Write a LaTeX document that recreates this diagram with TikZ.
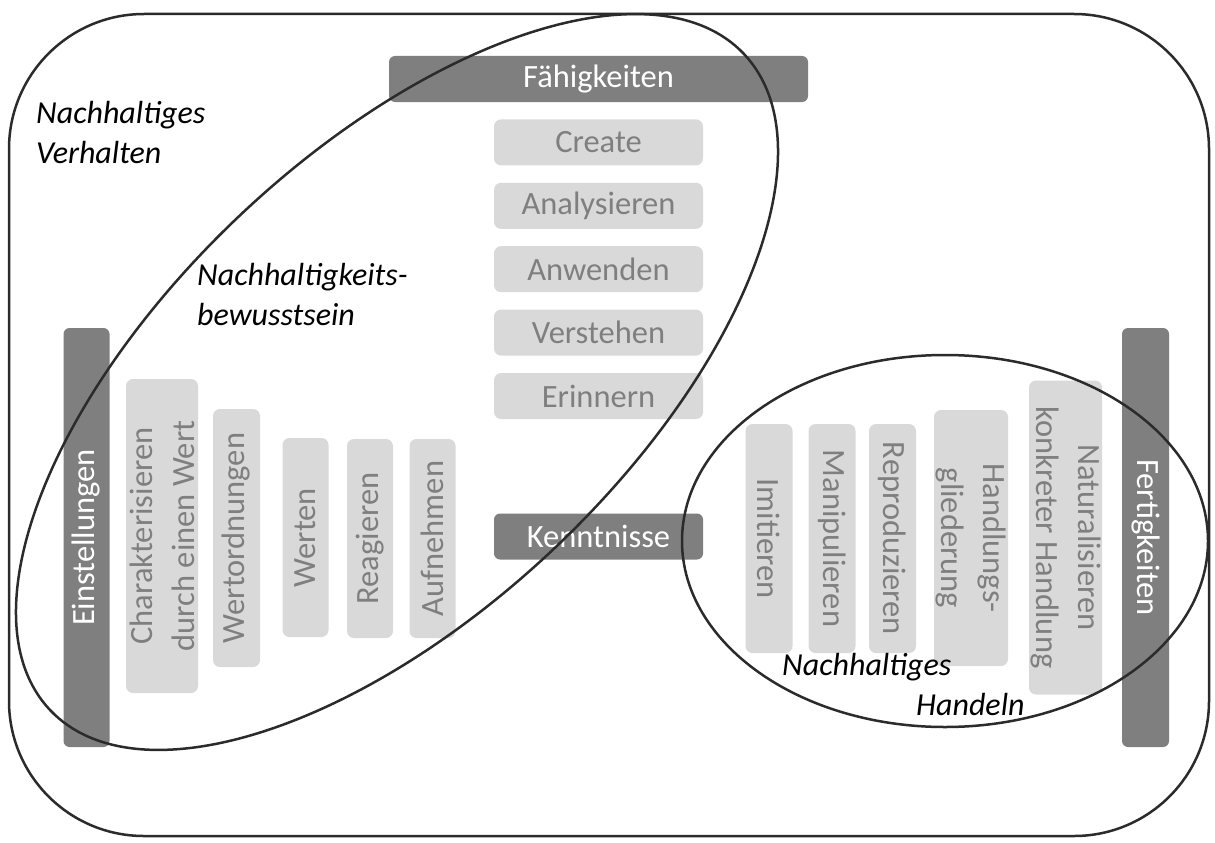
\documentclass[tikz,border=0pt]{standalone}
\usepackage{fontspec}
\setmainfont{Carlito}
\usetikzlibrary{positioning,shapes.geometric}
\definecolor{bardark}{HTML}{7F7F7F}
\definecolor{boxlight}{HTML}{D9D9D9}
\definecolor{linedark}{HTML}{2B2B2B}

\begin{document}
\begin{tikzpicture}[x=1pt, y=-1pt, align=center,
    bar/.style={fill=bardark, text=white, rounded corners=6pt, inner sep=0pt, font=\fontsize{32.5}{42}\selectfont},
    level/.style={fill=boxlight, text=bardark, rounded corners=7pt, inner sep=0pt, font=\fontsize{32.5}{42}\selectfont},
    area/.style={font=\fontsize{32}{40}\selectfont\itshape, align=left, inner sep=0pt, anchor=base west},
    hull/.style={draw=linedark, line width=2.5pt, inner sep=0pt}]
        \useasboundingbox (0,0) rectangle (1215,843);

        \node [hull, rounded corners=135pt, minimum width=1200pt, minimum height=822pt] (verhalten) at (609,425) {};

        % Faehigkeiten
        \node [bar, minimum width=419pt, minimum height=46pt] (faehig) at (598.5,79) {Fähigkeiten};
        \node [level, below=17pt of faehig, minimum width=209pt, minimum height=46pt] (create) {Create};
        \node [level, below=17pt of create, minimum width=209pt, minimum height=46pt] (analys) {Analysieren};
        \node [level, below=17pt of analys, minimum width=209pt, minimum height=46pt] (anwend) {Anwenden};
        \node [level, below=17pt of anwend, minimum width=209pt, minimum height=46pt] (versteh) {Verstehen};
        \node [level, below=17pt of versteh, minimum width=209pt, minimum height=46pt] (erinn) {Erinnern};
        \node [bar, minimum width=209pt, minimum height=46pt] (kennt) at (598.5,536.5) {Kenntnisse};

        % Einstellungen
        \node [bar, rotate=90, minimum width=419pt, minimum height=46pt] (einst) at (86.5,537.5) {Einstellungen};
        \node [level, rotate=90, minimum width=314pt, minimum height=72pt] (charakt) at (162,536) {Charakterisieren\\durch einen Wert};
        \node [level, rotate=90, minimum width=258pt, minimum height=47pt] (wertord) at (236.5,538) {Wertordnungen};
        \node [level, rotate=90, minimum width=199pt, minimum height=46pt] (werten) at (305.5,537.5) {Werten};
        \node [level, rotate=90, minimum width=199pt, minimum height=46pt] (reag) at (370,538.5) {Reagieren};
        \node [level, rotate=90, minimum width=199pt, minimum height=46pt] (aufn) at (432.5,538.5) {Aufnehmen};

        % Fertigkeiten
        \node [level, rotate=-90, minimum width=229pt, minimum height=47pt] (imit) at (769,538.5) {Imitieren};
        \node [level, rotate=-90, minimum width=229pt, minimum height=47pt] (manip) at (832,538.5) {Manipulieren};
        \node [level, rotate=-90, minimum width=229pt, minimum height=47pt] (reprod) at (892.5,538.5) {Reproduzieren};
        \node [level, rotate=-90, minimum width=256pt, minimum height=74pt] (gliedr) at (971,538) {Handlungs-\\gliederung};
        \node [level, rotate=-90, minimum width=314pt, minimum height=73pt] (natur) at (1065.5,537.5) {Naturalisieren\\konkreter Handlung};
        \node [bar, rotate=-90, minimum width=419pt, minimum height=47pt] (fertig) at (1145.5,537.5) {Fertigkeiten};

        % Bereiche
        \node [hull, ellipse, rotate=43.4, minimum width=955pt, minimum height=458pt] (bewusst) at (397,382) {};
        \node [hull, ellipse, minimum width=526pt, minimum height=372pt] (handeln) at (945,541) {};

        \node [area] (verhaltenlbl) at (36,163) {Nachhaltiges\\Verhalten};
        \node [area] (bewusstlbl) at (197,325) {Nachhaltigkeits-\\bewusstsein};
        \node [area] (handelnlbl) at (782,675) {Nachhaltiges};
        \node [area] (handelnlbl2) at (916,715) {Handeln};

    \end{tikzpicture}
\end{document}
